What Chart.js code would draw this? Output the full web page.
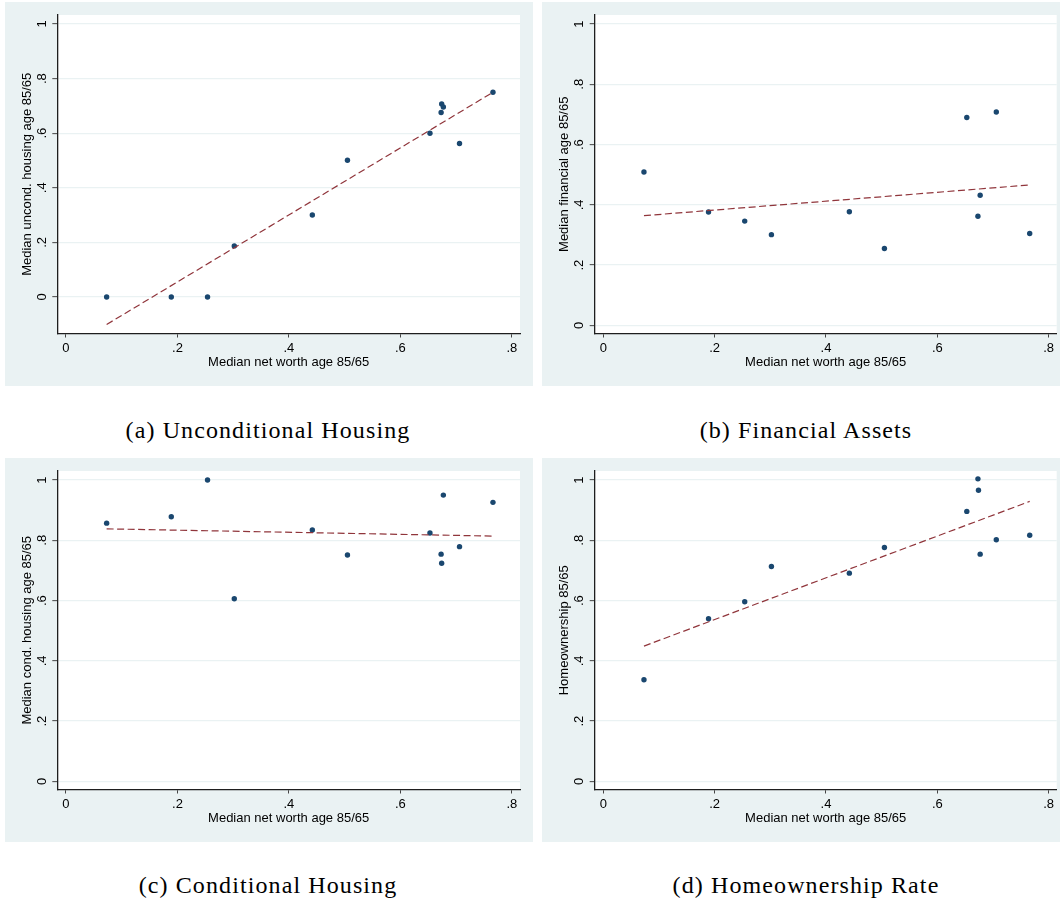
<!DOCTYPE html>
<html>
<head>
<meta charset="utf-8">
<script src="https://cdn.jsdelivr.net/npm/chart.js@4.4.0/dist/chart.umd.min.js"></script>
<style>
  html, body { margin: 0; padding: 0; background: #ffffff; }
  body { width: 1060px; height: 902px; position: relative; overflow: hidden; }
  canvas.panel { position: absolute; background: #eaf2f3; }
  .cap {
    position: absolute; width: 420px; text-align: center;
    font-family: "Liberation Serif", "Times New Roman", serif;
    font-size: 24px; letter-spacing: 1.1px; line-height: 1;
    color: #000; white-space: nowrap;
  }
</style>
</head>
<body>
<canvas id="panelA" class="panel" width="528" height="384" style="left:5px; top:2px;"></canvas>
<canvas id="panelB" class="panel" width="518" height="384" style="left:542px; top:2px;"></canvas>
<canvas id="panelC" class="panel" width="528" height="384" style="left:5px; top:458px;"></canvas>
<canvas id="panelD" class="panel" width="518" height="384" style="left:542px; top:458px;"></canvas>

<div class="cap" style="left:58px; top:418px;">(a) Unconditional Housing</div>
<div class="cap" style="left:596px; top:418px;">(b) Financial Assets</div>
<div class="cap" style="left:58px; top:873px;">(c) Conditional Housing</div>
<div class="cap" style="left:596px; top:873px;">(d) Homeownership Rate</div>

<script>
// Median net worth ratio (age 85 / age 65) for each group
const netWorth = [0.073, 0.189, 0.254, 0.302, 0.442, 0.505, 0.653, 0.673, 0.674, 0.677, 0.706, 0.766];

// Outcome ratios, same order as netWorth (null = not reported)
const uncondHousing   = [0, 0, 0, 0.187, 0.300, 0.501, 0.600, 0.676, 0.707, 0.696, 0.562, 0.750];
const financialAssets = [0.509, 0.376, 0.346, 0.301, 0.377, 0.255, 0.690, 0.362, null, 0.432, 0.708, 0.305];
const condHousing     = [0.857, 0.878, 1.000, 0.606, 0.834, 0.751, 0.824, 0.754, 0.724, 0.950, 0.779, 0.926];
const homeownership   = [0.337, 0.540, 0.596, 0.713, 0.691, 0.776, 0.896, 1.004, 0.966, 0.754, 0.802, 0.817];

// Linear fit end points
const fitX             = [0.073, 0.766];
const uncondHousingFit = [-0.101, 0.750];
const financialFit     = [0.364, 0.466];
const condHousingFit   = [0.838, 0.814];
const homeownershipFit = [0.449, 0.929];

// Axis ticks
const xTickValues = [0, 0.2, 0.4, 0.6, 0.8];
const xTickLabels = ['0', '.2', '.4', '.6', '.8'];
const yTickValues = [0, 0.2, 0.4, 0.6, 0.8, 1];
const yTickLabels = ['0', '.2', '.4', '.6', '.8', '1'];

const xTitle = 'Median net worth age 85/65';

const NAVY = '#1a476f';
const MAROON = '#90353b';
const GRID = '#eaf2f3';
const AXIS = '#1e1e1e';
const FONT = '"Liberation Sans", Arial, sans-serif';

// White plot region
const plotBg = {
  id: 'plotBg',
  beforeDraw(chart) {
    const { ctx, chartArea: { left, top, right, bottom } } = chart;
    ctx.save();
    ctx.fillStyle = '#ffffff';
    ctx.fillRect(left, top, right - left, bottom - top);
    ctx.restore();
  }
};

// Tick labels: x labels upright, y labels turned to read upward
const tickLabels = {
  id: 'tickLabels',
  afterDraw(chart) {
    const { ctx, chartArea, scales: { x, y } } = chart;
    ctx.save();
    ctx.fillStyle = '#000';
    ctx.font = '13px ' + FONT;
    ctx.textAlign = 'center';
    ctx.textBaseline = 'alphabetic';
    xTickValues.forEach((v, i) => {
      ctx.fillText(xTickLabels[i], x.getPixelForValue(v), chartArea.bottom + 18.4);
    });
    yTickValues.forEach((v, i) => {
      ctx.save();
      ctx.translate(chartArea.left - 11.3, y.getPixelForValue(v));
      ctx.rotate(-Math.PI / 2);
      ctx.fillText(yTickLabels[i], 0, 0);
      ctx.restore();
    });
    ctx.restore();
  }
};

function makePanel(id, values, fitValues, yTitle, yMin, yMax, yAxisWidth, padRight) {
  const points = [];
  netWorth.forEach((x, i) => { if (values[i] !== null) points.push({ x: x, y: values[i] }); });
  const fitLine = fitX.map((x, i) => ({ x: x, y: fitValues[i] }));

  return new Chart(document.getElementById(id), {
    type: 'scatter',
    data: {
      datasets: [
        {
          data: points,
          backgroundColor: NAVY, borderColor: NAVY, borderWidth: 0,
          pointRadius: 2.7, pointHoverRadius: 2.7, order: 2
        },
        {
          type: 'line',
          data: fitLine,
          borderColor: MAROON, borderWidth: 1.2, borderDash: [7, 3.5],
          pointRadius: 0, fill: false, showLine: true, order: 1
        }
      ]
    },
    options: {
      responsive: false,
      animation: false,
      devicePixelRatio: 1,
      events: [],
      layout: { padding: { top: 13, right: padRight, bottom: 0, left: 0 } },
      plugins: { legend: { display: false }, tooltip: { enabled: false } },
      scales: {
        x: {
          type: 'linear', position: 'bottom', min: -0.0155, max: 0.8145,
          afterBuildTicks: s => { s.ticks = xTickValues.map(v => ({ value: v })); },
          afterFit: s => { s.height = 52.5; },
          ticks: { display: false },
          grid: { drawOnChartArea: false, drawTicks: true, tickLength: 4, tickColor: '#444', tickWidth: 1 },
          border: { display: true, color: AXIS, width: 1.3 },
          title: {
            display: true, text: xTitle, color: '#000',
            font: { family: FONT, size: 13 }, padding: { top: 0, bottom: 15.7 }
          }
        },
        y: {
          type: 'linear', position: 'left', min: yMin, max: yMax,
          afterBuildTicks: s => { s.ticks = yTickValues.map(v => ({ value: v })); },
          afterFit: s => { s.width = yAxisWidth; },
          ticks: { display: false },
          grid: { color: GRID, lineWidth: 1.3, drawTicks: true, tickLength: 5, tickColor: '#444', tickWidth: 1 },
          border: { display: true, color: AXIS, width: 1.3 },
          title: {
            display: true, text: yTitle, color: '#000',
            font: { family: FONT, size: 13 }, padding: { top: 14.2, bottom: 0 }
          }
        }
      }
    },
    plugins: [plotBg, tickLabels]
  });
}

makePanel('panelA', uncondHousing, uncondHousingFit, 'Median uncond. housing age 85/65', -0.134, 1.033, 52.3, 13);
makePanel('panelB', financialAssets, financialFit, 'Median financial age 85/65', -0.027, 1.03, 52.7, 3.3);
makePanel('panelC', condHousing, condHousingFit, 'Median cond. housing age 85/65', -0.027, 1.03, 52.3, 13);
makePanel('panelD', homeownership, homeownershipFit, 'Homeownership 85/65', -0.027, 1.03, 52.7, 3.3);
</script>
</body>
</html>
